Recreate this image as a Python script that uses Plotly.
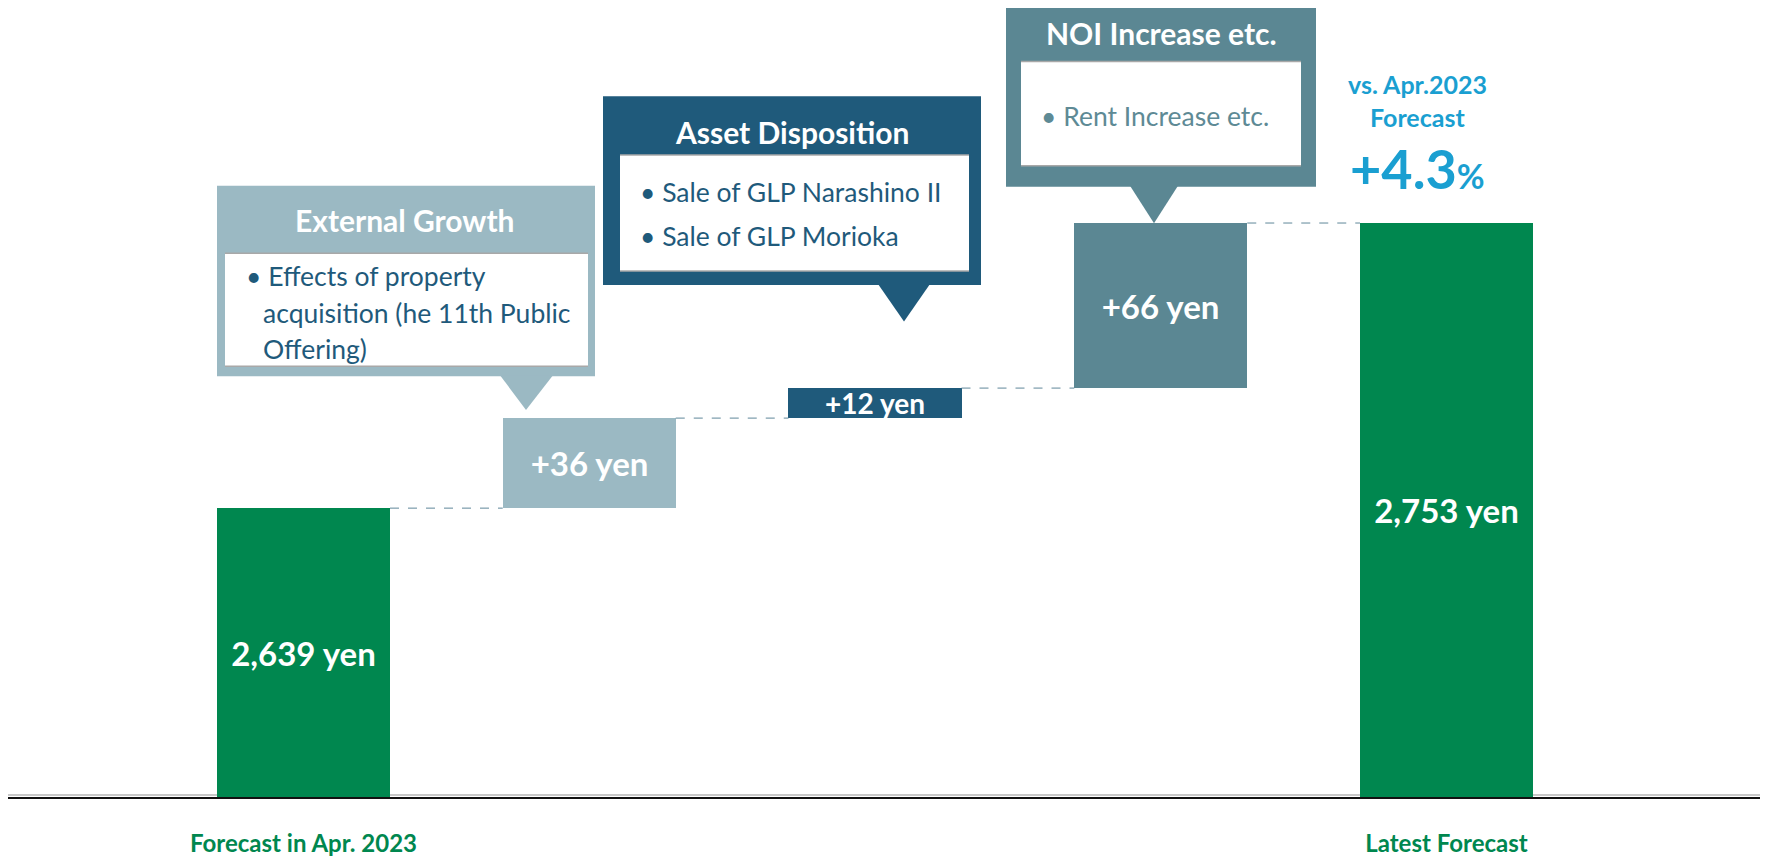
import plotly.graph_objects as go

# ---------------- data ----------------
categories = ["Forecast in Apr. 2023", "", "", "", "Latest Forecast"]
start_value = 2639
changes = [36, 12, 66]
change_names = ["External Growth", "Asset Disposition", "NOI Increase etc."]
total_value = 2753
bar_colors = ["#00874F", "#9BB9C3", "#1F5A7B", "#5B8793", "#00874F"]

# ---------------- layout constants ----------------
OFF = 8                    # page body margin
FW, FH = 1768 - 2 * OFF, 865 - 2 * OFF
PLOT_BOTTOM = 803          # page pixel row of the x axis
PLOT_H = PLOT_BOTTOM - OFF
PX_PER_YEN = 2.52
Y_MIN = 2523.5
Y_MAX = Y_MIN + PLOT_H / PX_PER_YEN
SLOT = 285.75
X0_PAGE = 303.5
X_MIN = (OFF - X0_PAGE) / SLOT
X_MAX = (OFF + FW - X0_PAGE) / SLOT
BAR_W = 0.6055
FONT = "Lato"


def PX(x):
    return (x - OFF) / FW


def PY(y):
    return (PLOT_BOTTOM - y) / PLOT_H


# cumulative bases / heights from data
bases, heights, labels = [], [], []
bases.append(Y_MIN)
heights.append(start_value - Y_MIN)
labels.append(f"{start_value:,} yen")
running = start_value
for c in changes:
    bases.append(running)
    heights.append(c)
    labels.append(f"+{c} yen")
    running += c
bases.append(Y_MIN)
heights.append(total_value - Y_MIN)
labels.append(f"{total_value:,} yen")
tops = [b + h for b, h in zip(bases, heights)]
xs = list(range(len(categories)))
# slightly smaller label where the bar is thin
label_sizes = [33 if h * PX_PER_YEN > 45 else 28 for h in heights]

fig = go.Figure()
fig.add_trace(go.Bar(
    x=xs, y=heights, base=bases, width=BAR_W,
    marker=dict(color=bar_colors, line=dict(width=0)),
    text=labels, textposition="inside", insidetextanchor="middle",
    textangle=0, constraintext="none",
    textfont=dict(family=FONT, size=label_sizes, color="white", weight="bold"),
    hoverinfo="skip", showlegend=False,
))

shapes = []
# dashed connectors between bars (from data)
for i in range(len(xs) - 1):
    level = tops[i]
    shapes.append(dict(type="line", xref="x", yref="y",
                       x0=xs[i] + BAR_W / 2, x1=xs[i + 1] - BAR_W / 2,
                       y0=level, y1=level,
                       line=dict(color="#5F8799", width=1, dash="dash")))

# axis shadow
shapes.append(dict(type="line", xref="paper", yref="paper", x0=0, x1=1,
                   y0=PY(801), y1=PY(801), layer="below",
                   line=dict(color="#C8C8C8", width=2)))

annotations = []

callouts = [
    dict(color="#9BB9C3", text_color="#1F5A7B", box=(217, 187, 595, 379),
         inner=(225, 255, 588, 369), tri=(500, 553, 526, 413), title_pos=(405, 222),
         lines=[("• Effects of property", 244, 278),
                ("acquisition (he 11th Public", 261, 315),
                ("Offering)", 261, 352)]),
    dict(color="#1F5A7B", text_color="#1F5A7B", box=(603, 97, 981, 287),
         inner=(620, 156, 969, 273), tri=(878, 930, 904, 324), title_pos=(792, 133),
         lines=[("• Sale of GLP Narashino II", 638, 193),
                ("• Sale of GLP Morioka", 638, 238)]),
    dict(color="#5B8793", text_color="#5E8A95", box=(1006, 0, 1316, 188),
         inner=(1021, 62, 1301, 167), tri=(1130, 1178, 1154, 225), title_pos=(1161, 33),
         lines=[("• Rent Increase etc.", 1039, 117)]),
]

for name, co in zip(change_names, callouts):
    x0, y0, x1, y1 = co["box"]
    shapes.append(dict(type="rect", xref="paper", yref="paper",
                       x0=PX(x0), x1=PX(x1), y0=PY(y1), y1=PY(y0),
                       fillcolor=co["color"], line=dict(width=0)))
    ix0, iy0, ix1, iy1 = co["inner"]
    shapes.append(dict(type="rect", xref="paper", yref="paper",
                       x0=PX(ix0), x1=PX(ix1), y0=PY(iy1), y1=PY(iy0),
                       fillcolor="white", line=dict(width=0)))
    for yy in (iy0, iy1):
        shapes.append(dict(type="line", xref="paper", yref="paper",
                           x0=PX(ix0), x1=PX(ix1), y0=PY(yy), y1=PY(yy),
                           line=dict(color="#A8A8A8", width=1.5)))
    bx0, bx1, tx, ty = co["tri"]
    path = (f"M {PX(bx0)},{PY(y1 - 1)} L {PX(bx1)},{PY(y1 - 1)} "
            f"L {PX(tx)},{PY(ty)} Z")
    shapes.append(dict(type="path", xref="paper", yref="paper", path=path,
                       fillcolor=co["color"], line=dict(width=0)))
    tx_, ty_ = co["title_pos"]
    annotations.append(dict(xref="paper", yref="paper", x=PX(tx_), y=PY(ty_),
                            text=name, showarrow=False, xanchor="center",
                            yanchor="middle",
                            font=dict(family=FONT, size=30, color="white",
                                      weight="bold")))
    for txt, lx, ly in co["lines"]:
        annotations.append(dict(xref="paper", yref="paper", x=PX(lx), y=PY(ly),
                                text=txt, showarrow=False, xanchor="left",
                                yanchor="middle",
                                font=dict(family=FONT, size=26.5,
                                          color=co["text_color"])))

# comparison text
pct = (total_value / start_value - 1) * 100
blue = "#1A9FD1"
annotations.append(dict(xref="paper", yref="paper", x=PX(1417), y=PY(85),
                        text="vs. Apr.2023", showarrow=False, xanchor="center",
                        yanchor="middle",
                        font=dict(family=FONT, size=25, color=blue, weight="bold")))
annotations.append(dict(xref="paper", yref="paper", x=PX(1417), y=PY(118),
                        text="Forecast", showarrow=False, xanchor="center",
                        yanchor="middle",
                        font=dict(family=FONT, size=25, color=blue, weight="bold")))
annotations.append(dict(xref="paper", yref="paper", x=PX(1417), y=PY(170),
                        text=f"+{pct:.1f}<span style='font-size:34px'>%</span>",
                        showarrow=False, xanchor="center", yanchor="middle",
                        font=dict(family=FONT, size=54, color=blue, weight="bold")))

fig.update_layout(
    width=FW, height=FH,
    margin=dict(l=0, r=0, t=0, b=FH - PLOT_H),
    paper_bgcolor="white", plot_bgcolor="white",
    bargap=0,
    shapes=shapes, annotations=annotations,
    xaxis=dict(range=[X_MIN, X_MAX], tickmode="array", tickvals=xs,
               ticktext=categories, showgrid=False, zeroline=False,
               showline=True, linecolor="#111111", linewidth=2,
               ticks="", ticklabelstandoff=24,
               tickfont=dict(family=FONT, size=24, color="#00874F", weight="bold"),
               fixedrange=True),
    yaxis=dict(range=[Y_MIN, Y_MAX], visible=False, showgrid=False,
               zeroline=False, fixedrange=True),
)

fig.write_html("out.html")
